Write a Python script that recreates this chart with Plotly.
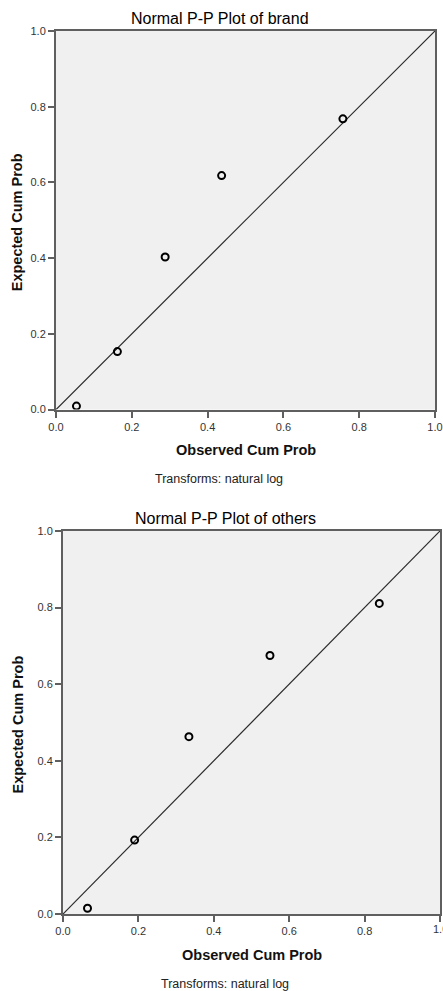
import plotly.graph_objects as go

W, H = 443, 991

# Data
brand_observed = [0.054, 0.162, 0.288, 0.437, 0.757]
brand_expected = [0.009, 0.153, 0.403, 0.618, 0.768]
others_observed = [0.065, 0.190, 0.334, 0.549, 0.839]
others_expected = [0.015, 0.193, 0.463, 0.675, 0.811]
ref_line = [0.0, 1.0]
tick_vals = [0.0, 0.2, 0.4, 0.6, 0.8, 1.0]
tick_text = ["0.0", "0.2", "0.4", "0.6", "0.8", "1.0"]

titles = ["Normal P-P Plot of brand", "Normal P-P Plot of others"]
x_title = "Observed Cum Prob"
y_title = "Expected Cum Prob"
footnote = "Transforms: natural log"

# plot areas in pixels (left, right, top, bottom)
boxes = [(56, 435, 31, 409.5), (63, 440, 531, 914)]

fig = go.Figure()

def px(x):
    return x / W

def py(y):
    return 1 - y / H

axis_color = "#5f5f5f"
font_family = "Liberation Sans, Arial, sans-serif"
tick_font = dict(family=font_family, size=11, color="#333333")

series = [(brand_observed, brand_expected), (others_observed, others_expected)]
annotations = []
for i, ((xs, ys), (l, r, t, b)) in enumerate(zip(series, boxes)):
    n = "" if i == 0 else str(i + 1)
    xa = "x" + n
    ya = "y" + n
    fig.add_trace(go.Scatter(x=ref_line, y=ref_line, mode="lines",
                             line=dict(color="#2a2a2a", width=1.2),
                             xaxis=xa, yaxis=ya, showlegend=False, hoverinfo="skip"))
    fig.add_trace(go.Scatter(x=xs, y=ys, mode="markers",
                             marker=dict(symbol="circle-open", size=7,
                                         color="black", line=dict(width=2, color="black")),
                             xaxis=xa, yaxis=ya, showlegend=False))
    common = dict(range=[0, 1], tickvals=tick_vals, ticktext=tick_text,
                  showgrid=False, zeroline=False, showline=True, linecolor=axis_color,
                  linewidth=2, mirror=True, ticks="outside", ticklen=6, tickwidth=1.5,
                  tickcolor=axis_color, automargin=False, tickfont=tick_font)
    fig.layout["xaxis" + n] = dict(domain=[px(l), px(r)], anchor=ya, **common)
    fig.layout["yaxis" + n] = dict(domain=[py(b), py(t)], anchor=xa, **common)
    cx = (l + r) / 2
    cy = (t + b) / 2
    annotations.append(dict(text=titles[i], x=px(cx - 26), y=py(t - 13), xref="paper", yref="paper",
                            showarrow=False, xanchor="center", yanchor="middle",
                            font=dict(family=font_family, size=16, color="#000000")))
    annotations.append(dict(text="<b>" + x_title + "</b>", x=px(cx), y=py(b + 41), xref="paper",
                            yref="paper", showarrow=False, xanchor="center", yanchor="middle",
                            font=dict(family=font_family, size=14.5, color="#111111")))
    annotations.append(dict(text="<b>" + y_title + "</b>", x=px(17), y=py(cy + 2), xref="paper",
                            yref="paper", showarrow=False, xanchor="center", yanchor="middle",
                            textangle=-90,
                            font=dict(family=font_family, size=14.5, color="#111111")))
    annotations.append(dict(text=footnote, x=px(cx - 27), y=py(b + 70), xref="paper",
                            yref="paper", showarrow=False, xanchor="center", yanchor="middle",
                            font=dict(family=font_family, size=12.5, color="#222222")))

# the last x tick label of the lower chart runs off the page edge (partly clipped)
l2, r2, t2, b2 = boxes[1]
annotations.append(dict(text=tick_text[-1], x=tick_vals[-1], xref="x2", y=py(b2 + 15),
                        yref="paper", showarrow=False, xanchor="center", yanchor="middle",
                        font=tick_font))

fig.update_layout(width=W, height=H, margin=dict(l=0, r=0, t=0, b=0),
                  paper_bgcolor="white", plot_bgcolor="#f0f0f0",
                  annotations=annotations)

fig.write_html("out.html")
